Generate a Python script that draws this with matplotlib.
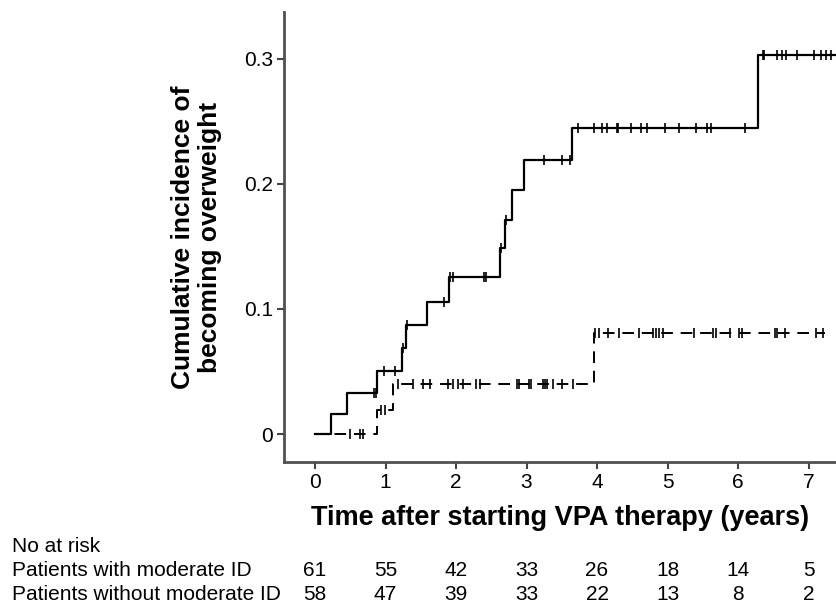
import numpy as np
import matplotlib
matplotlib.use("Agg")
import matplotlib.pyplot as plt

plt.rcParams['font.family'] = ['Liberation Sans', 'DejaVu Sans']

# Moderate ID group (solid)
mod_times = [0, 0.22, 0.46, 0.875, 1.23, 1.29, 1.59, 1.90, 2.62, 2.70, 2.79, 2.96, 3.64, 6.28, 7.40]
mod_inc = [0, 0.0164, 0.033, 0.0507, 0.0685, 0.087, 0.106, 0.126, 0.1485, 0.171, 0.195, 0.219, 0.245, 0.303, 0.303]
mod_cens = [0.83, 0.87, 0.98, 1.13, 1.25, 1.31, 1.83, 1.92, 1.96, 2.39, 2.42, 2.64, 2.71,
            3.25, 3.51, 3.62, 3.73, 3.96, 4.07, 4.14, 4.29, 4.30, 4.48, 4.63, 4.71, 4.96,
            5.16, 5.40, 5.56, 5.61, 6.10, 6.35, 6.37, 6.56, 6.62, 6.68, 6.83, 7.08, 7.18,
            7.25, 7.32]

# Without moderate ID group (dashed)
nomod_times = [0, 0.875, 1.11, 3.96, 7.23]
nomod_inc = [0, 0.0192, 0.040, 0.0805, 0.0805]
nomod_cens = [0.50, 0.64, 0.68, 0.93, 0.99, 1.17, 1.39, 1.53, 1.63, 1.89, 1.96, 2.03, 2.10,
              2.29, 2.34, 2.86, 2.90, 3.03, 3.06, 3.24, 3.26, 3.29, 3.38, 3.51, 3.66,
              3.97, 4.03, 4.16, 4.31, 4.59, 4.80, 4.84, 4.88, 4.94, 5.38, 5.64, 5.69,
              5.88, 6.02, 6.05, 6.52, 6.55, 6.67, 7.11, 7.21]

xticks = [0, 1, 2, 3, 4, 5, 6, 7]
yticks = [0, 0.1, 0.2, 0.3]
ytick_labels = ["0", "0.1", "0.2", "0.3"]

risk_labels = ["Patients with moderate ID", "Patients without moderate ID"]
risk_mod = [61, 55, 42, 33, 26, 18, 14, 5]
risk_nomod = [58, 47, 39, 33, 22, 13, 8, 2]


def step_at(times, vals, t):
    idx = np.searchsorted(times, t, side='right') - 1
    return np.asarray(vals)[idx]


W, H = 836, 608
fig = plt.figure(figsize=(W / 100, H / 100), dpi=100)
ax = fig.add_axes([284 / W, 1 - 462 / H, 1 - 284 / W, (462 - 12) / H])

ax.step(nomod_times, nomod_inc, where='post', color='black', lw=1.4,
        linestyle=(0, (6, 4)))
ax.step(mod_times, mod_inc, where='post', color='black', lw=1.6)

ax.plot(mod_cens, step_at(mod_times, mod_inc, mod_cens), linestyle='none',
        marker='|', markersize=7, mew=1.2, color='black')
ax.plot(nomod_cens, step_at(nomod_times, nomod_inc, nomod_cens), linestyle='none',
        marker='|', markersize=7, mew=1.2, color='black')

ax.set_xlim(-0.44, 7.39)
ax.set_ylim(-0.0224, 0.3376)
ax.set_xticks(xticks)
ax.set_xticklabels([str(x) for x in xticks], fontsize=15)
ax.set_yticks(yticks)
ax.set_yticklabels(ytick_labels, fontsize=15)
ax.tick_params(direction='out', length=5, width=1.5, color='#444444', pad=3)

for s in ['top', 'right']:
    ax.spines[s].set_visible(False)
for s in ['left', 'bottom']:
    ax.spines[s].set_linewidth(2.0)
    ax.spines[s].set_color('#505050')

ax.set_xlabel("Time after starting VPA therapy (years)", fontsize=19.5,
              fontweight='bold', labelpad=9)
ax.set_ylabel("Cumulative incidence of\nbecoming overweight", fontsize=19,
              fontweight='bold', labelpad=16, linespacing=1.15)

# Numbers at risk table
fig.text(12 / W, 1 - 547 / H, "No at risk", fontsize=15, va='center', ha='left')
for row, (label, vals) in enumerate(zip(risk_labels, [risk_mod, risk_nomod])):
    yfig = 1 - (571 + 24 * row) / H
    fig.text(12 / W, yfig, label, fontsize=15, va='center', ha='left')
    for xt, v in zip(xticks, vals):
        xd = ax.transData.transform((xt, 0))[0]
        xf = fig.transFigure.inverted().transform((xd, 0))[0]
        fig.text(xf, yfig, str(v), fontsize=15, va='center', ha='center')

fig.savefig("out.png", dpi=100)
